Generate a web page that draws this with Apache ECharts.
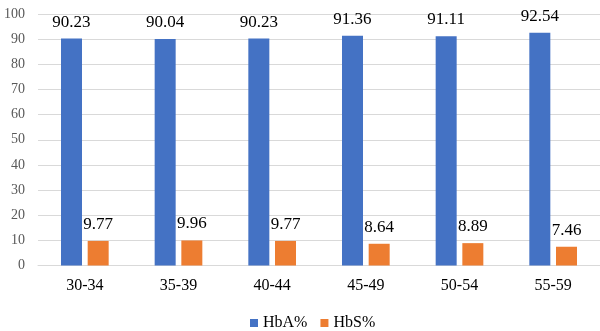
<!DOCTYPE html>
<html>
<head>
<meta charset="utf-8">
<script src="https://cdn.jsdelivr.net/npm/echarts@6/dist/echarts.min.js"></script>
<style>
  html, body { margin: 0; padding: 0; background: #fff; }
  #chart { width: 600px; height: 331px; }
</style>
</head>
<body>
<div id="chart"></div>
<script>
// Age groups and haemoglobin fractions
const categories = ['30-34', '35-39', '40-44', '45-49', '50-54', '55-59'];
const hbA = [90.23, 90.04, 90.23, 91.36, 91.11, 92.54];
const hbS = [9.77, 9.96, 9.77, 8.64, 8.89, 7.46];
const yTicks = { min: 0, max: 100, interval: 10 };

const font = '"Liberation Serif", "Times New Roman", serif';
const labelStyle = {
  show: true,
  position: 'top',
  distance: 8,
  fontFamily: font,
  fontSize: 17,
  color: '#000'
};

const chart = echarts.init(document.getElementById('chart'), null, { renderer: 'canvas' });
chart.setOption({
  animation: false,
  backgroundColor: '#fff',
  grid: { left: 38, right: -1.5, top: 14, bottom: 65.5, containLabel: false },
  legend: {
    top: 310,
    left: 245,
    itemWidth: 8,
    itemHeight: 8,
    itemGap: 13,
    icon: 'rect',
    textStyle: { fontFamily: font, fontSize: 16, color: '#000' },
    data: ['HbA%', 'HbS%']
  },
  xAxis: {
    type: 'category',
    data: categories,
    axisLine: { lineStyle: { color: '#d9d9d9', width: 1 } },
    axisTick: { show: false },
    axisLabel: { fontFamily: font, fontSize: 16, color: '#000', margin: 12 }
  },
  yAxis: {
    type: 'value',
    min: yTicks.min,
    max: yTicks.max,
    interval: yTicks.interval,
    axisLine: { show: false },
    axisTick: { show: false },
    splitLine: { lineStyle: { color: '#d9d9d9', width: 1 } },
    axisLabel: { fontFamily: font, fontSize: 14, color: '#595959', margin: 13 }
  },
  series: [
    {
      name: 'HbA%',
      type: 'bar',
      data: hbA,
      barWidth: 21,
      barGap: '27%',
      itemStyle: { color: '#4472C4' },
      label: labelStyle
    },
    {
      name: 'HbS%',
      type: 'bar',
      data: hbS,
      barWidth: 21,
      itemStyle: { color: '#ED7D31' },
      label: labelStyle
    }
  ]
});
</script>
</body>
</html>
